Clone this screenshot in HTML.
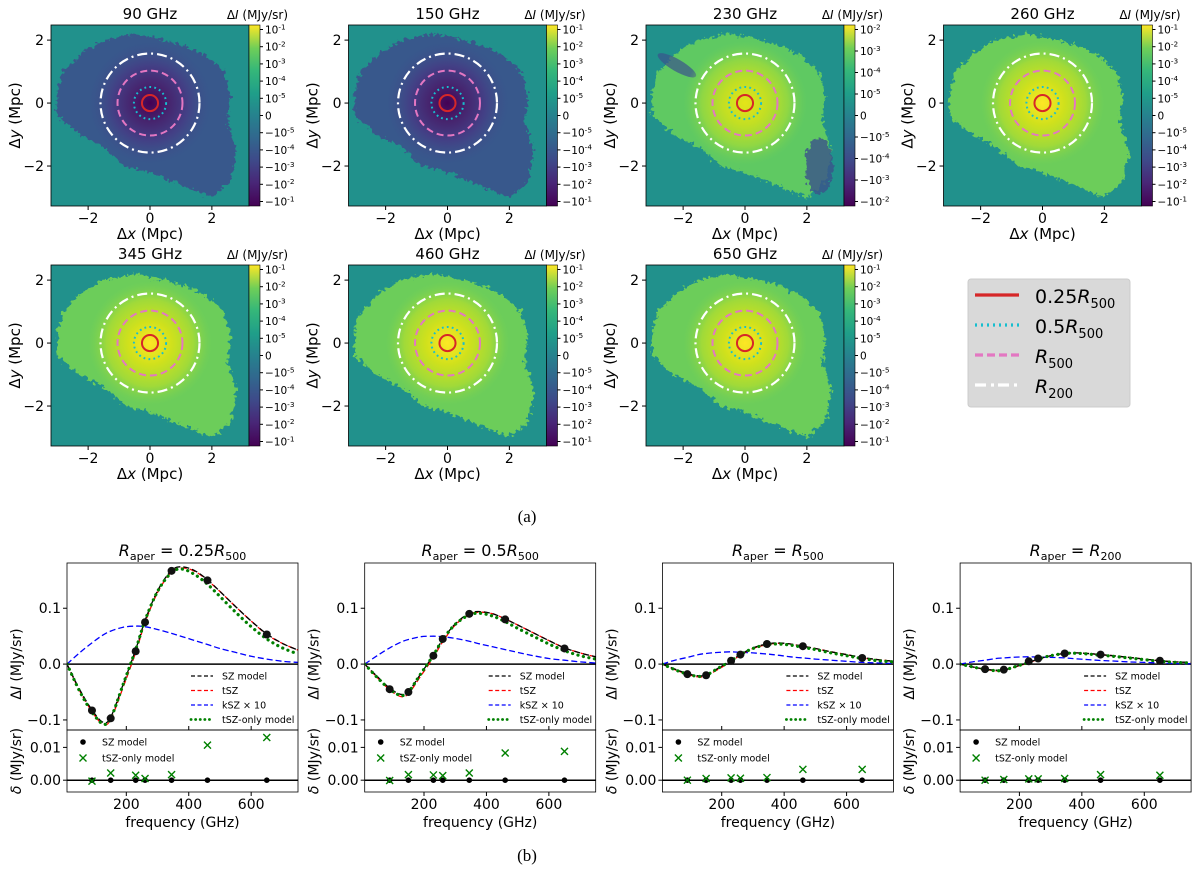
<!DOCTYPE html>
<html><head><meta charset="utf-8">
<style>
html,body{margin:0;padding:0;background:#fff;}
svg{display:block;font-family:"DejaVu Sans","Liberation Sans",sans-serif;}
</style></head>
<body>
<svg id="fig" width="1200" height="870" viewBox="0 0 1200 870" xmlns="http://www.w3.org/2000/svg">
<defs>
<linearGradient id="viridis" x1="0" y1="1" x2="0" y2="0">
<stop offset="0" stop-color="#440154"/><stop offset="0.13" stop-color="#482777"/><stop offset="0.25" stop-color="#3e4989"/><stop offset="0.38" stop-color="#31688e"/><stop offset="0.5" stop-color="#26828e"/><stop offset="0.62" stop-color="#1f9e89"/><stop offset="0.75" stop-color="#35b779"/><stop offset="0.87" stop-color="#6ece58"/><stop offset="1" stop-color="#fde725"/>
</linearGradient>
<radialGradient id="gNeg" cx="0.5" cy="0.5" r="0.5">
<stop offset="0" stop-color="#440154"/><stop offset="0.3" stop-color="#46246e"/><stop offset="0.6" stop-color="#433f85"/><stop offset="1" stop-color="#3b528b" stop-opacity="0"/>
</radialGradient>
<radialGradient id="gPos230" cx="0.5" cy="0.5" r="0.5">
<stop offset="0" stop-color="#e4e419"/><stop offset="0.35" stop-color="#c2df23"/><stop offset="0.7" stop-color="#8fd744"/><stop offset="1" stop-color="#6ece58" stop-opacity="0"/>
</radialGradient>
<radialGradient id="gPos" cx="0.5" cy="0.5" r="0.5">
<stop offset="0" stop-color="#fde725"/><stop offset="0.35" stop-color="#d0e11c"/><stop offset="0.7" stop-color="#a0da39"/><stop offset="1" stop-color="#7ad151" stop-opacity="0"/>
</radialGradient>
<filter id="rough" x="-20%" y="-20%" width="140%" height="140%">
<feTurbulence type="fractalNoise" baseFrequency="0.25" numOctaves="2" seed="3" result="n"/>
<feDisplacementMap in="SourceGraphic" in2="n" scale="10" xChannelSelector="R" yChannelSelector="G"/>
</filter>
</defs>
<g id="maps"></g>
<g id="legendTop"></g>
<text x="527" y="522" text-anchor="middle" font-family="Liberation Serif,serif" font-size="17">(a)</text>
<g id="spectra"></g>
<text x="527" y="861" text-anchor="middle" font-family="Liberation Serif,serif" font-size="17">(b)</text>
</svg>
<script>
// ===== Map data =====
const mapFreqs = ["90 GHz","150 GHz","230 GHz","260 GHz","345 GHz","460 GHz","650 GHz"];
const mapSign = ["neg","neg","pos230","pos","pos","pos","pos"];
const cbLabels13 = ["10^-1","10^-2","10^-3","10^-4","10^-5","0","−10^-5","−10^-4","−10^-3","−10^-2","−10^-1"];
const cbLabels230 = ["10^-2","10^-3","10^-4","10^-5","0","−10^-5","−10^-4","−10^-3","−10^-2"];
const apertureRadii = [0.26, 0.52, 1.05, 1.6]; // Mpc
const blobX = [-2.8,-2.2,-1.5,-0.5,0.5,1.2,1.8,2.4,2.6,2.5,2.8,2.6,2.0,1.0,0,-0.8,-1.5,-2.3,-3.0,-3.0];
const blobY = [1.0,1.6,2.0,2.2,2.0,1.8,1.5,1.0,0.2,-0.6,-1.5,-2.5,-3.0,-2.6,-2.2,-2.0,-1.4,-1.0,-0.4,0.4];
const mapTicks = [-2,0,2];

const NS="http://www.w3.org/2000/svg";
function el(tag, attrs, parent){const e=document.createElementNS(NS,tag);for(const k in attrs)e.setAttribute(k,attrs[k]);if(parent)parent.appendChild(e);return e;}
function supText(parent, x, y, s, size, anchor){
  const t=el("text",{x:x,y:y,"font-size":size,"text-anchor":anchor||"start"},parent);
  const m=s.match(/^(.*)\^(.*)$/);
  if(m){ t.appendChild(document.createTextNode(m[1])); const sp=el("tspan",{"font-size":size*0.7,dy:-size*0.4},t); sp.textContent=m[2]; }
  else t.textContent=s;
  return t;
}

const maps=document.getElementById("maps");
mapFreqs.forEach((f,i)=>{
  const col=i%4,row=Math.floor(i/4);
  const L=51+col*297.5, T=25+row*240, W=198, H=181;
  const sx=v=>L+(v+3.2)/6.4*W, sy=v=>T+(2.48-v)/5.75*H;
  const g=el("g",{},maps);
  
  
  const cid="clip"+i;
  const cp=el("clipPath",{id:cid},g); el("rect",{x:L,y:T,width:W,height:H},cp);
  el("rect",{x:L,y:T,width:W,height:H,fill:"#21918c"},g);
  const gi=el("g",{"clip-path":"url(#"+cid+")"},g);
  let d="";
  blobX.forEach((bx,k)=>{d+=(k?"L":"M")+sx(bx).toFixed(1)+","+sy(blobY[k]).toFixed(1);});
  d+="Z";
  const sign=mapSign[i];
  const outer= sign==="neg"?"#38598c":(sign==="pos230"?"#5ec962":"#6ccd5a");
  const blob=el("path",{d:d,fill:outer,filter:"url(#rough)"},gi);
  
  
  if(sign==="pos230"){
    el("ellipse",{cx:sx(2.4),cy:sy(-2),rx:14,ry:28,fill:"#3b528b",opacity:0.8,filter:"url(#rough)"},gi);
    el("ellipse",{cx:sx(-2.2),cy:sy(1.2),rx:22,ry:6,fill:"#3b528b",opacity:0.7,transform:`rotate(30 ${sx(-2.2)} ${sy(1.2)})`},gi);
  }
  const grad= sign==="neg"?"gNeg":(sign==="pos230"?"gPos230":"gPos");
  el("circle",{cx:sx(0),cy:sy(0),r:(2.0/6.4*W),fill:"url(#"+grad+")"},gi);
  const c0=el("circle",{cx:sx(0),cy:sy(0),r:apertureRadii[3]/6.4*W,fill:"none",stroke:"#fff","stroke-width":2.2,"stroke-dasharray":"10,4,2,4"},g);
   
  const c1=el("circle",{cx:sx(0),cy:sy(0),r:apertureRadii[2]/6.4*W,fill:"none",stroke:"#e377c2","stroke-width":2,"stroke-dasharray":"7,4"},g);
   
  const c2=el("circle",{cx:sx(0),cy:sy(0),r:apertureRadii[1]/6.4*W,fill:"none",stroke:"#17becf","stroke-width":2,"stroke-dasharray":"1.8,3.2"},g);
   
  const c3=el("circle",{cx:sx(0),cy:sy(0),r:apertureRadii[0]/6.4*W,fill:"none",stroke:"#d62728","stroke-width":2},g);
   
  el("rect",{x:L,y:T,width:W,height:H,fill:"none",stroke:"#000","stroke-width":0.8},g);
  mapTicks.forEach(v=>{
    el("line",{x1:sx(v),x2:sx(v),y1:T+H,y2:T+H+4,stroke:"#000"},g);
    const tx=el("text",{x:sx(v),y:T+H+17,"font-size":14,"text-anchor":"middle"},g); tx.textContent=(v<0?"−":"")+Math.abs(v);
    el("line",{x1:L-4,x2:L,y1:sy(v),y2:sy(v),stroke:"#000"},g);
    const ty=el("text",{x:L-7,y:sy(v)+5,"font-size":14,"text-anchor":"end"},g); ty.textContent=(v<0?"−":"")+Math.abs(v);
  });
  const xl=el("text",{x:L+W/2,y:T+H+33,"font-size":15,"text-anchor":"middle"},g);
  xl.innerHTML='Δ<tspan font-style="italic">x</tspan> (Mpc)';
   
  const yl=el("text",{x:0,y:0,"font-size":15,"text-anchor":"middle",transform:`translate(${L-31},${T+H/2}) rotate(-90)`},g);
  yl.innerHTML='Δ<tspan font-style="italic">y</tspan> (Mpc)';
   
  const tt=el("text",{x:L+W/2,y:T-6,"font-size":15,"text-anchor":"middle"},g); tt.textContent=f;
   
  const cbx=L+W, cbw=11;
  const cb=el("rect",{x:cbx,y:T,width:cbw,height:H,fill:"url(#viridis)",stroke:"#000","stroke-width":0.6},g);
   
  const cbt=el("text",{x:cbx+cbw+28,y:T-6,"font-size":12,"text-anchor":"end"},g);
  cbt.innerHTML='Δ<tspan font-style="italic">I</tspan> (MJy/sr)';
  const labs= sign==="pos230"?cbLabels230:cbLabels13;
  const y0=T+4.5, y1=T+H-4.5;
  labs.forEach((lb,k)=>{
    const yy=y0+(y1-y0)*k/(labs.length-1);
    el("line",{x1:cbx+cbw,x2:cbx+cbw+3,y1:yy,y2:yy,stroke:"#000"},g);
    supText(g,cbx+cbw+5,yy+4,lb,10.5,"start");
  });
});

(function(){
  const lg=document.getElementById("legendTop");
  
  
  el("rect",{x:968,y:279,width:162,height:128,rx:3,fill:"#d9d9d9",stroke:"#ccc"},lg);
  const items=[["#d62728","none","0.25","500"],["#17becf","2,4","0.5","500"],["#e377c2","8,4","","500"],["#fff","11,5,3,4","","200"]];
  items.forEach((it,k)=>{
    const y=295+k*30;
    el("line",{x1:975,x2:1019,y1:y,y2:y,stroke:it[0],"stroke-width":3.2,"stroke-dasharray":it[1]},lg);
    const t=el("text",{x:1035,y:y+8,"font-size":19},lg);
    t.innerHTML=it[2]+'<tspan font-style="italic">R</tspan><tspan font-size="13" dy="5">'+it[3]+'</tspan>';
  });
})();

// ===== Spectra data =====
const freqGrid = [10,50,90,125,150,190,230,260,300,345,380,420,460,500,550,600,650,700,750];
const obsFreqs = [90,150,230,260,345,460,650];
const panelTitles = ["0.25","0.5","",""];
const panelSubs = ["500","500","500","200"];
const sz1 = [0,-0.045,-0.082,-0.104,-0.095,-0.036,0.026,0.078,0.131,0.168,0.174,0.167,0.151,0.13,0.103,0.077,0.054,0.037,0.025];
const tsz1 = [0,-0.047,-0.085,-0.108,-0.099,-0.041,0.021,0.074,0.128,0.165,0.172,0.166,0.15,0.13,0.103,0.077,0.053,0.037,0.025];
const tszOnly1 = [0,-0.048,-0.086,-0.107,-0.097,-0.036,0.026,0.078,0.13,0.164,0.17,0.16,0.143,0.121,0.093,0.067,0.045,0.029,0.018];
const ksz1 = [0,0.02,0.038,0.052,0.059,0.066,0.068,0.067,0.062,0.055,0.049,0.042,0.035,0.028,0.021,0.014,0.009,0.005,0.003];
const pts1 = [-0.083,-0.097,0.023,0.075,0.167,0.15,0.053];
const res1 = [-0.0003,0.0022,0.0015,0.0005,0.0017,0.0107,0.013];
const sz2 = [0,-0.022,-0.043,-0.054,-0.049,-0.017,0.016,0.044,0.072,0.091,0.094,0.09,0.081,0.07,0.056,0.042,0.029,0.02,0.013];
const tsz2 = [0,-0.024,-0.046,-0.058,-0.053,-0.021,0.012,0.04,0.07,0.089,0.093,0.09,0.081,0.07,0.056,0.042,0.029,0.02,0.013];
const tszOnly2 = [0,-0.024,-0.045,-0.056,-0.05,-0.017,0.016,0.044,0.071,0.088,0.091,0.086,0.076,0.064,0.05,0.036,0.024,0.015,0.009];
const ksz2 = [0,0.015,0.029,0.039,0.044,0.049,0.05,0.049,0.046,0.041,0.036,0.031,0.026,0.021,0.015,0.01,0.007,0.004,0.002];
const pts2 = [-0.045,-0.05,0.015,0.045,0.09,0.08,0.028];
const res2 = [-0.0001,0.0017,0.0016,0.0014,0.0022,0.0083,0.0088];
const sz3 = [0,-0.009,-0.017,-0.021,-0.019,-0.007,0.007,0.017,0.029,0.036,0.038,0.036,0.032,0.028,0.022,0.017,0.012,0.008,0.005];
const tsz3 = [0,-0.01,-0.018,-0.023,-0.021,-0.009,0.005,0.016,0.028,0.035,0.037,0.036,0.032,0.028,0.022,0.017,0.011,0.008,0.005];
const tszOnly3 = [0,-0.01,-0.018,-0.022,-0.02,-0.007,0.006,0.017,0.028,0.035,0.036,0.034,0.03,0.026,0.02,0.015,0.01,0.006,0.004];
const ksz3 = [0,0.007,0.012,0.017,0.019,0.021,0.022,0.021,0.02,0.018,0.016,0.013,0.011,0.009,0.007,0.005,0.003,0.002,0.001];
const pts3 = [-0.018,-0.02,0.006,0.017,0.036,0.032,0.011];
const res3 = [0,0.0005,0.0007,0.0006,0.0008,0.0033,0.0033];
const sz4 = [0,-0.005,-0.009,-0.011,-0.0105,-0.004,0.003,0.009,0.015,0.019,0.02,0.019,0.017,0.015,0.012,0.009,0.006,0.004,0.003];
const tsz4 = [0,-0.005,-0.0095,-0.012,-0.011,-0.0045,0.0025,0.0085,0.015,0.019,0.02,0.019,0.017,0.015,0.012,0.009,0.006,0.004,0.003];
const tszOnly4 = [0,-0.005,-0.0095,-0.0118,-0.0108,-0.004,0.003,0.009,0.015,0.019,0.0195,0.018,0.016,0.014,0.011,0.008,0.005,0.003,0.002];
const ksz4 = [0,0.004,0.007,0.01,0.011,0.0125,0.013,0.0125,0.012,0.011,0.0095,0.008,0.0065,0.0055,0.004,0.003,0.002,0.001,0.0007];
const pts4 = [-0.009,-0.01,0.005,0.01,0.019,0.017,0.006];
const res4 = [0,0.0002,0.0004,0.0004,0.0005,0.0017,0.0015];
const xTicks = [200,400,600];
const yTicksMain = [-0.1,0.0,0.1];
const yTicksRes = [0.00,0.01];

const panels=[[sz1,tsz1,tszOnly1,ksz1,pts1,res1],[sz2,tsz2,tszOnly2,ksz2,pts2,res2],[sz3,tsz3,tszOnly3,ksz3,pts3,res3],[sz4,tsz4,tszOnly4,ksz4,pts4,res4]];

function smoothPath(xs,ys){
  let d="M"+xs[0].toFixed(1)+","+ys[0].toFixed(1);
  for(let i=0;i<xs.length-1;i++){
    const x0=xs[Math.max(i-1,0)],y0=ys[Math.max(i-1,0)],x1=xs[i],y1=ys[i],x2=xs[i+1],y2=ys[i+1],x3=xs[Math.min(i+2,xs.length-1)],y3=ys[Math.min(i+2,xs.length-1)];
    const c1x=x1+(x2-x0)/6,c1y=y1+(y2-y0)/6,c2x=x2-(x3-x1)/6,c2y=y2-(y3-y1)/6;
    d+=`C${c1x.toFixed(1)},${c1y.toFixed(1)} ${c2x.toFixed(1)},${c2y.toFixed(1)} ${x2.toFixed(1)},${y2.toFixed(1)}`;
  }
  return d;
}
const spectra=document.getElementById("spectra");
panels.forEach((p,i)=>{
  const L=67+i*297.7, W=231, T=563, MB=730, RB=792;
  const sx=v=>L+(v-10)/740*W;
  const sy=v=>T+(0.181-v)/0.299*(MB-T);
  const ry=v=>MB+(0.0153-v)/0.0189*(RB-MB);
  const g=el("g",{},spectra);
  
  
  const cid="sclip"+i;
  const cp=el("clipPath",{id:cid},g); el("rect",{x:L,y:T,width:W,height:MB-T},cp);
  const gc=el("g",{"clip-path":"url(#"+cid+")"},g);
  el("line",{x1:L,x2:L+W,y1:sy(0),y2:sy(0),stroke:"#000","stroke-width":1.5},gc);
  const X=freqGrid.map(sx);
  const series=[[p[3],"#0000ff","6,3",1.3,"ksz-x10-curve"],[p[1],"#ff0000","6,3",1.3,"tsz-curve"],[p[0],"#000","6,3",1.3,"sz-model-curve"],[p[2],"#008000","0.1,5.5",3.2,"tsz-only-curve"]];
  series.forEach(s=>{
    const pa=el("path",{d:smoothPath(X,s[0].map(sy)),fill:"none",stroke:s[1],"stroke-width":s[3],"stroke-dasharray":s[2],"stroke-linecap":s[1]==="#008000"?"round":"butt"},gc);
    
    
  });
  obsFreqs.forEach((f,k)=>{
    const c=el("circle",{cx:sx(f),cy:sy(p[4][k]),r:4,fill:"#111"},gc);
    
    
  });
  el("rect",{x:L,y:T,width:W,height:MB-T,fill:"none",stroke:"#000","stroke-width":0.8},g);
  el("line",{x1:L,x2:L+W,y1:ry(0),y2:ry(0),stroke:"#000","stroke-width":1.5},g);
  obsFreqs.forEach((f,k)=>{
    const c=el("circle",{cx:sx(f),cy:ry(0),r:2.8,fill:"#000"},g);
    
    
    const xx=sx(f), yy=ry(p[5][k]);
    const m=el("path",{d:`M${xx-3.5},${yy-3.5}L${xx+3.5},${yy+3.5}M${xx-3.5},${yy+3.5}L${xx+3.5},${yy-3.5}`,stroke:"#008000","stroke-width":1.4},g);
    
    
  });
  el("rect",{x:L,y:MB,width:W,height:RB-MB,fill:"none",stroke:"#000","stroke-width":0.8},g);
  xTicks.forEach(v=>{
    el("line",{x1:sx(v),x2:sx(v),y1:MB,y2:MB-4,stroke:"#000"},g);
    el("line",{x1:sx(v),x2:sx(v),y1:RB,y2:RB+4,stroke:"#000"},g);
    const t=el("text",{x:sx(v),y:RB+17,"font-size":14,"text-anchor":"middle"},g); t.textContent=v;
  });
  yTicksMain.forEach(v=>{
    el("line",{x1:L-4,x2:L,y1:sy(v),y2:sy(v),stroke:"#000"},g);
    const t=el("text",{x:L-6,y:sy(v)+5,"font-size":14,"text-anchor":"end"},g); t.textContent=(v<0?"−":"")+Math.abs(v).toFixed(1);
  });
  yTicksRes.forEach(v=>{
    el("line",{x1:L-4,x2:L,y1:ry(v),y2:ry(v),stroke:"#000"},g);
    const t=el("text",{x:L-6,y:ry(v)+5,"font-size":14,"text-anchor":"end"},g); t.textContent=v.toFixed(2);
  });
  const xl=el("text",{x:L+W/2,y:RB+35,"font-size":14,"text-anchor":"middle"},g); xl.textContent="frequency (GHz)";
   
  const yl=el("text",{x:0,y:0,"font-size":14,"text-anchor":"middle",transform:`translate(${L-46},${sy(0)}) rotate(-90)`},g);
  yl.innerHTML='Δ<tspan font-style="italic">I</tspan> (MJy/sr)';
   
  const yl2=el("text",{x:0,y:0,"font-size":14,"text-anchor":"middle",transform:`translate(${L-46},${(MB+RB)/2}) rotate(-90)`},g);
  yl2.innerHTML='<tspan font-style="italic">δ</tspan> (MJy/sr)';
   
  const tt=el("text",{x:L+W/2,y:T-7,"font-size":16,"text-anchor":"middle"},g);
  tt.innerHTML='<tspan font-style="italic">R</tspan><tspan font-size="11" dy="4">aper</tspan><tspan dy="-4"> = '+panelTitles[i]+'</tspan><tspan font-style="italic">R</tspan><tspan font-size="11" dy="4">'+panelSubs[i]+'</tspan>';
   
  const lg=el("g",{},g);
   
  const li=[["#000","4,2.5",1.3,"SZ model"],["#ff0000","4,2.5",1.3,"tSZ"],["#0000ff","4,2.5",1.3,"kSZ × 10"],["#008000","0.1,4.5",2.8,"tSZ-only model"]];
  li.forEach((it,k)=>{
    const y=676+k*14.5;
    el("line",{x1:L+124,x2:L+146,y1:y,y2:y,stroke:it[0],"stroke-dasharray":it[1],"stroke-width":it[2],"stroke-linecap":it[0]==="#008000"?"round":"butt"},lg);
    const t=el("text",{x:L+155,y:y+3.5,"font-size":9.5},lg); t.textContent=it[3];
  });
  const lr=el("g",{},g);
   
  el("circle",{cx:L+16,cy:742,r:2.8,fill:"#000"},lr);
  const t1=el("text",{x:L+35,y:745.5,"font-size":9.5},lr); t1.textContent="SZ model";
  el("path",{d:`M${L+12.5},${754.5}L${L+19.5},${761.5}M${L+12.5},${761.5}L${L+19.5},${754.5}`,stroke:"#008000","stroke-width":1.4},lr);
  const t2=el("text",{x:L+35,y:761.5,"font-size":9.5},lr); t2.textContent="tSZ-only model";
});
</script>
</body></html>
